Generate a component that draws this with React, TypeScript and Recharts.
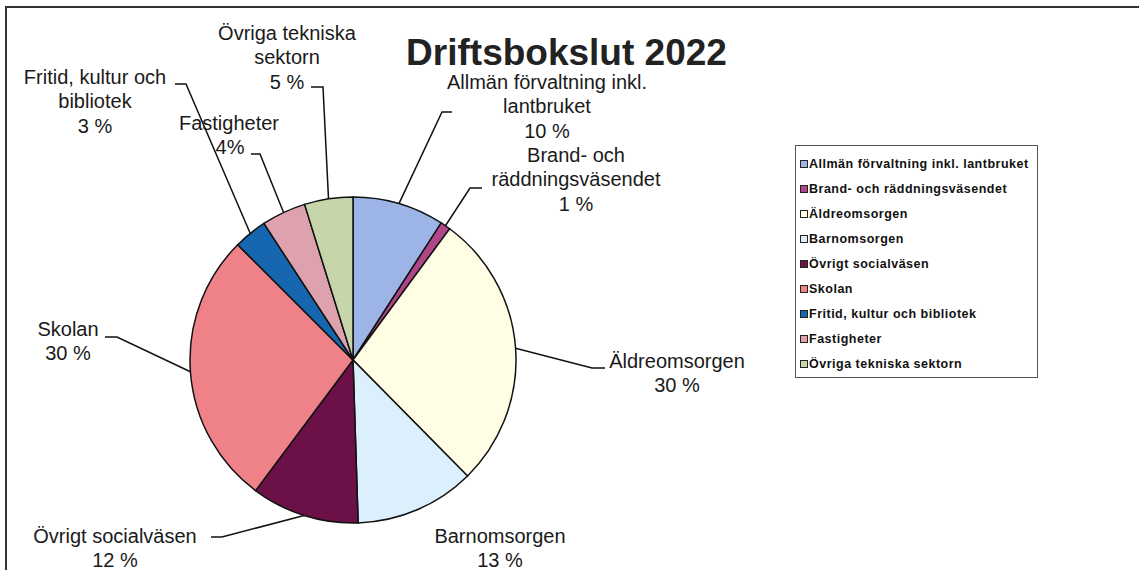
import { PieChart, Pie, Cell, Legend } from "recharts";

const categories = [
  "Allmän förvaltning inkl. lantbruket",
  "Brand- och räddningsväsendet",
  "Äldreomsorgen",
  "Barnomsorgen",
  "Övrigt socialväsen",
  "Skolan",
  "Fritid, kultur och bibliotek",
  "Fastigheter",
  "Övriga tekniska sektorn",
];

// shares
const shares = [9.1, 1.0, 27.5, 11.9, 10.7, 27.3, 3.3, 4.4, 4.8];

// percentages as printed on the labels
const printedPercent = ["10 %", "1 %", "30 %", "13 %", "12 %", "30 %", "3 %", "4%", "5 %"];

const labelText = [
  ["Allmän förvaltning inkl.", "lantbruket"],
  ["Brand- och", "räddningsväsendet"],
  ["Äldreomsorgen"],
  ["Barnomsorgen"],
  ["Övrigt socialväsen"],
  ["Skolan"],
  ["Fritid, kultur och", "bibliotek"],
  ["Fastigheter"],
  ["Övriga tekniska", "sektorn"],
];

const colors = [
  "#9db5e6",
  "#b0468a",
  "#fffde3",
  "#dceffc",
  "#6c1048",
  "#ef8189",
  "#1767b0",
  "#dea2ae",
  "#c6d6aa",
];

// label placement: text center x, first baseline, leader elbow and tail
const labelLayout = [
  { x: 547, y: 89, elbow: [442, 112], tail: [452, 112] },
  { x: 576, y: 162, elbow: [470, 188], tail: [482, 188] },
  { x: 677, y: 368, elbow: [592, 368], tail: [605, 368] },
  { x: 500, y: 543, elbow: null, tail: null },
  { x: 115, y: 543, elbow: [222, 537], tail: [211, 537] },
  { x: 68, y: 336, elbow: [117, 337], tail: [105, 337] },
  { x: 95, y: 84, elbow: [186, 84], tail: [175, 84] },
  { x: 229, y: 130, elbow: [260, 154], tail: [251, 154], pctX: 230 },
  { x: 287, y: 40, elbow: [323, 87], tail: [311, 87] },
];

const data = categories.map((name, i) => ({ name, value: shares[i] }));

const RAD = Math.PI / 180;
const FONT = "'Liberation Sans', Arial, sans-serif";

function renderLabel(props: any) {
  const { cx, cy, midAngle, outerRadius, index } = props;
  const lay = labelLayout[index];
  const lines = [...labelText[index], printedPercent[index]];
  const ex = cx + outerRadius * Math.cos(-midAngle * RAD);
  const ey = cy + outerRadius * Math.sin(-midAngle * RAD);
  return (
    <g key={`lbl-${index}`}>
      {lay.elbow && (
        <polyline
          points={`${ex},${ey} ${lay.elbow[0]},${lay.elbow[1]} ${lay.tail[0]},${lay.tail[1]}`}
          fill="none"
          stroke="#111"
          strokeWidth={1.5}
        />
      )}
      {lines.map((t, j) => (
        <text
          key={j}
          x={j === lines.length - 1 && lay.pctX ? lay.pctX : lay.x}
          y={lay.y + j * 24.3}
          textAnchor="middle"
          fontSize={20}
          fontFamily={FONT}
          fill="#1a1a1a"
        >
          {t}
        </text>
      ))}
    </g>
  );
}

// legend drawn in data order (recharts would sort it by name)
function renderLegend() {
  return (
    <div
      style={{
        border: "1px solid #555",
        width: 243,
        height: 233,
        boxSizing: "border-box",
        paddingTop: 6,
        paddingLeft: 4,
        fontFamily: FONT,
        fontSize: 12.5,
        letterSpacing: 0.5,
        fontWeight: "bold",
        color: "#111",
        background: "#fff",
      }}
    >
      {categories.map((name, i) => (
        <div key={name} style={{ display: "flex", alignItems: "center", height: 24.9, whiteSpace: "nowrap" }}>
          <span
            style={{
              display: "inline-block",
              width: 6,
              height: 6,
              border: "1px solid #222",
              background: colors[i],
              marginRight: 1,
            }}
          />
          <span>{name}</span>
        </div>
      ))}
    </div>
  );
}

export default function App() {
  return (
    <div style={{ position: "fixed", left: 0, top: 0, width: 1139, height: 570, overflow: "hidden", background: "#fff" }}>
      <div style={{ position: "absolute", left: 0, top: 0 }}>
        <PieChart width={1139} height={570} margin={{ top: 0, right: 0, bottom: 0, left: 0 }}>
          <Pie
            data={data}
            dataKey="value"
            nameKey="name"
            cx={353}
            cy={360}
            outerRadius={163}
            startAngle={90}
            endAngle={-270}
            stroke="#111"
            strokeWidth={1.5}
            label={renderLabel}
            labelLine={false}
            isAnimationActive={false}
          >
            {data.map((d, i) => (
              <Cell key={d.name} fill={colors[i]} />
            ))}
          </Pie>
          <Legend
            content={renderLegend}
            wrapperStyle={{ position: "absolute", left: 795, top: 145, width: 243, height: 233 }}
          />
        </PieChart>
      </div>
      <div
        style={{
          position: "absolute",
          left: 0,
          top: 36,
          width: 1133,
          textAlign: "center",
          fontFamily: FONT,
          fontWeight: "bold",
          fontSize: 37,
          color: "#222",
          lineHeight: "33px",
          pointerEvents: "none",
        }}
      >
        Driftsbokslut 2022
      </div>
      <div
        style={{
          position: "absolute",
          left: 5,
          top: 6,
          width: 1150,
          height: 600,
          border: "2px solid #333",
          boxSizing: "border-box",
          pointerEvents: "none",
          zIndex: 5,
        }}
      />
    </div>
  );
}
